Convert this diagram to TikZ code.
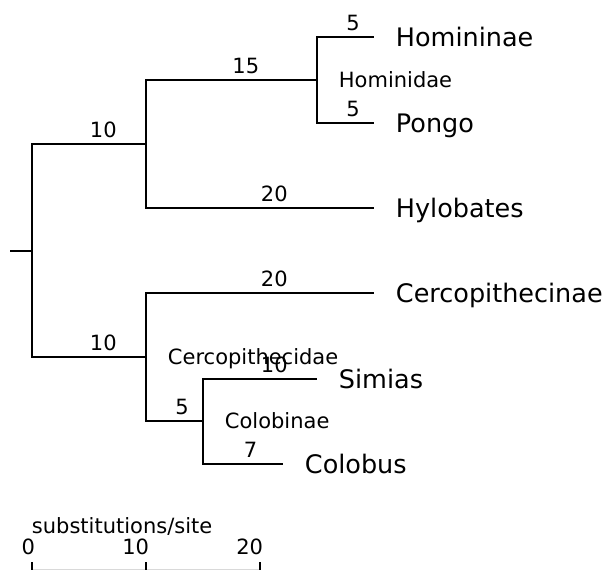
\documentclass[tikz,border=0pt]{standalone}
\usepackage{fontspec}
\setmainfont{DejaVu Sans}
\usetikzlibrary{positioning}

\begin{document}
\begin{tikzpicture}[x=1pt, y=-1pt, line width=1.9pt,
		taxon/.style={inner sep=0pt, text height=18.6pt, text depth=0pt, font=\fontsize{25.5}{30}\selectfont},
		clade/.style={inner sep=0pt, text height=15.3pt, text depth=0pt, font=\fontsize{21}{25}\selectfont},
		brlen/.style={anchor=south west, inner sep=0pt, yshift=5.5pt, font=\fontsize{21}{25}\selectfont}]
	\useasboundingbox (0,0) rectangle (606,570);

	% inner nodes and tips
	\coordinate (stub) at (10,251);
	\coordinate (root) at (32,251);
	\coordinate (hominoidea) at (146,144);
	\coordinate (hominidae) at (317,80);
	\coordinate (homininae) at (374,37);
	\coordinate (pongo) at (374,123);
	\coordinate (hylobates) at (374,208);
	\coordinate (cercopithecidae) at (146,357);
	\coordinate (cercopithecinae) at (374,293);
	\coordinate (colobinae) at (203,421);
	\coordinate (simias) at (317,379);
	\coordinate (colobus) at (283,464);

	\draw (stub) -- (root);
	\draw (root) |- node[brlen, pos=0.75] {10} (hominoidea);
	\draw (root) |- node[brlen, pos=0.75] {10} (cercopithecidae);
	\draw (hominoidea) |- node[brlen, pos=0.75] {15} (hominidae);
	\draw (hominoidea) |- node[brlen, pos=0.75] {20} (hylobates);
	\draw (hominidae) |- node[brlen, pos=0.75] {5} (homininae);
	\draw (hominidae) |- node[brlen, pos=0.75] {5} (pongo);
	\draw (cercopithecidae) |- node[brlen, pos=0.75] {20} (cercopithecinae);
	\draw (cercopithecidae) |- node[brlen, pos=0.75] {5} (colobinae);
	\draw (colobinae) |- node[brlen, pos=0.75] {10} (simias);
	\draw (colobinae) |- node[brlen, pos=0.75] {7} (colobus);

	\node[taxon, right=21pt of homininae] (homininaeName) {Homininae};
	\node[taxon, right=21pt of pongo] (pongoName) {Pongo};
	\node[taxon, right=21pt of hylobates] (hylobatesName) {Hylobates};
	\node[taxon, right=21pt of cercopithecinae] (cercopithecinaeName) {Cercopithecinae};
	\node[taxon, right=21pt of simias] (simiasName) {Simias};
	\node[taxon, right=21pt of colobus] (colobusName) {Colobus};

	\node[clade, right=21pt of hominidae] (hominidaeName) {Hominidae};
	\node[clade, right=21pt of cercopithecidae] (cercopithecidaeName) {Cercopithecidae};
	\node[clade, right=21pt of colobinae] (colobinaeName) {Colobinae};

	% scale bar
	\draw[gray!30, line width=1pt] (32,569) -- (260,569);
	\foreach \v/\x in {0/32, 10/146, 20/260} {
		\draw[line width=1.5pt] (\x,570) -- (\x,562);
		\node[anchor=south east, inner sep=0pt, font=\fontsize{21}{25}\selectfont] (tick\v) at (\x+4,556) {\v};
	}
	\node[anchor=base west, inner sep=0pt, font=\fontsize{21}{25}\selectfont] (scaleName) at (31,533) {substitutions/site};
\end{tikzpicture}
\end{document}
